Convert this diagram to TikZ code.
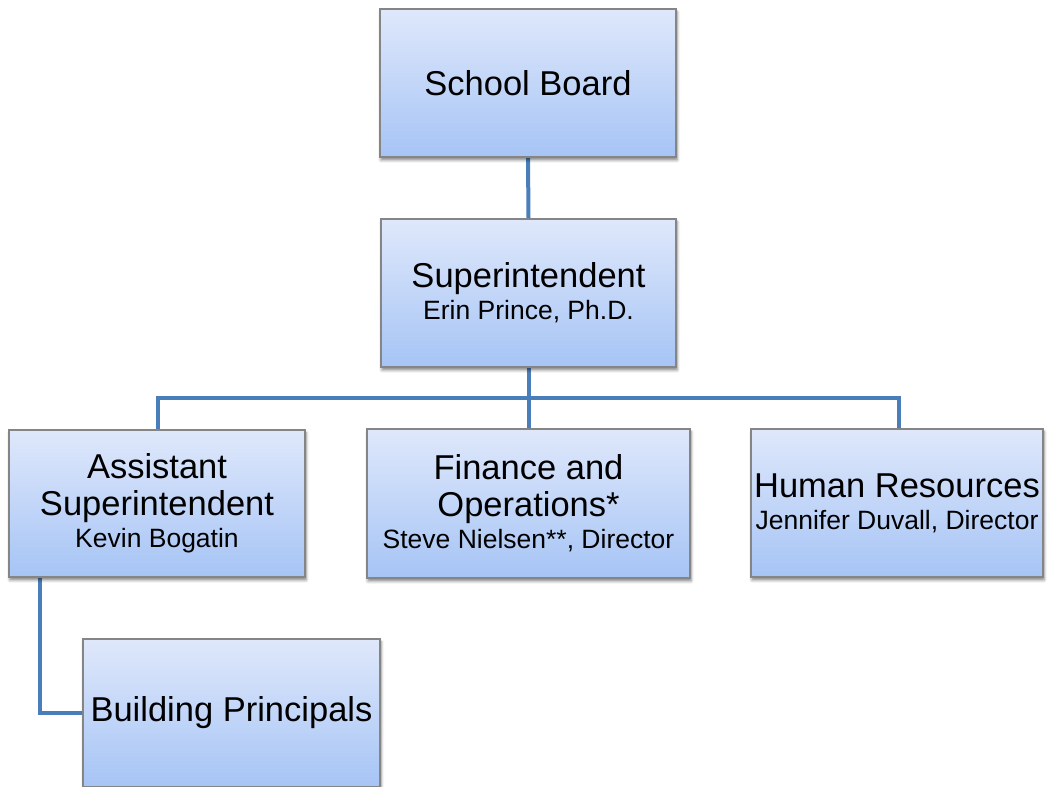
\documentclass[tikz,border=0pt]{standalone}
\usepackage{fontspec}
\setmainfont{Liberation Sans}
\usetikzlibrary{backgrounds,shadows.blur}
\definecolor{linkblue}{HTML}{4A7EBB}
\definecolor{boxtop}{HTML}{DFE8FB}
\definecolor{boxbot}{HTML}{A6C4F5}
\definecolor{boxedge}{HTML}{858585}
\newcommand{\subsz}{\fontsize{26.5}{32}\selectfont}
\tikzset{
  orgbox/.style={draw=boxedge, line width=1.2pt, top color=boxtop, bottom color=boxbot,
    align=center, inner sep=0pt, font=\fontsize{34.5}{37}\selectfont,
    blur shadow={shadow xshift=1pt, shadow yshift=-3pt, shadow blur radius=3pt, shadow opacity=50}},
  link/.style={draw=linkblue, line width=4pt}
}
\begin{document}
\begin{tikzpicture}[x=1pt,y=1pt]
\useasboundingbox (0,0) rectangle (1047,787);
\clip (0,0) rectangle (1047,787);
\node[orgbox, minimum width=296pt, minimum height=148pt] (board) at (528,704) {School Board};
\node[orgbox, minimum width=295pt, minimum height=148pt] (sup) at (528.5,494) {Superintendent\\[-5pt]{\subsz Erin Prince, Ph.D.}};
\node[orgbox, minimum width=296pt, minimum height=147pt] (asst) at (157,283.5) {Assistant\\Superintendent\\[-5pt]{\subsz Kevin Bogatin}};
\node[orgbox, minimum width=323pt, minimum height=149pt] (fin) at (528.5,283.5) {Finance and\\Operations*\\[-5pt]{\subsz Steve Nielsen**, Director}};
\node[orgbox, minimum width=292pt, minimum height=148pt] (hr) at (897,284) {Human Resources\\[-5pt]{\subsz Jennifer Duvall, Director}};
\node[orgbox, minimum width=297pt, minimum height=148pt] (bp) at (231.5,74) {Building Principals};
\coordinate (bus) at (528,389);
\coordinate (k) at (40,210);
\begin{pgfonlayer}{background}
\draw[link] (board.south) -- (sup.north);
\draw[link] (sup.south) -- (fin.north);
\draw[link] (asst.north -| 158,0) -- (bus -| 158,0) -- (bus -| 899,0) -- (hr.north -| 899,0);
\draw[link] (k) |- (bp.west);
\end{pgfonlayer}
\end{tikzpicture}
\end{document}
